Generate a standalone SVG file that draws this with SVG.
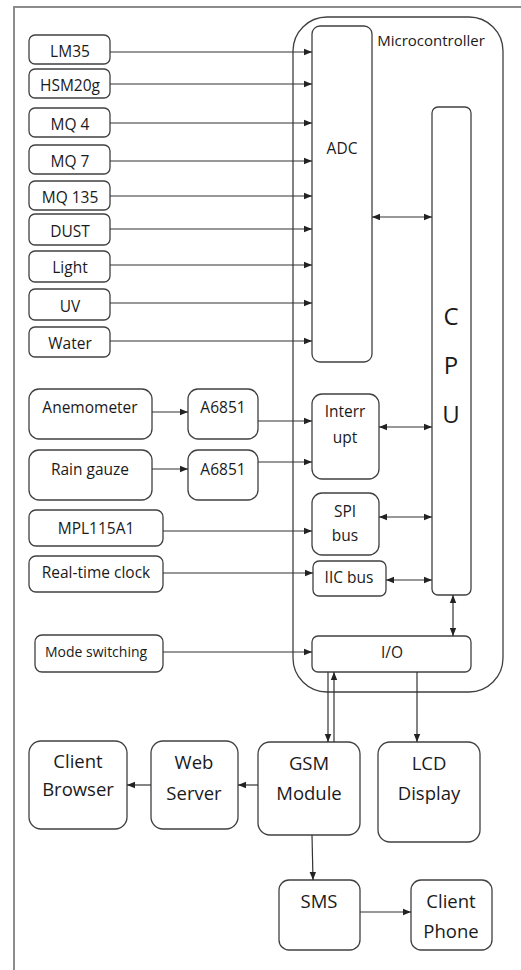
<svg xmlns="http://www.w3.org/2000/svg" width="521" height="970" viewBox="0 0 521 970">
<style>
.b{fill:#fff;stroke:#404040;stroke-width:1.3}
.t{font-family:"Open Sans","Liberation Sans",sans-serif;font-size:15.5px;fill:#1a1a1a;text-anchor:middle}
.m{font-size:14px}
.l{font-size:18.5px}
.c{font-size:24px}
.w{fill:none;stroke:#333;stroke-width:1.2}
.a{marker-end:url(#ah)}
.d{marker-start:url(#ah);marker-end:url(#ah)}
</style>
<defs>
<marker id="ah" markerUnits="userSpaceOnUse" markerWidth="8" markerHeight="8" refX="6" refY="3" orient="auto-start-reverse" viewBox="0 0 6 6"><path d="M0,0.6 L6,3 L0,5.4 Z" fill="#222"/></marker>
</defs>
<rect width="521" height="970" fill="#fff"/>
<path d="M14,970 V7 H521" fill="none" stroke="#8c8c8c" stroke-width="2"/>

<g id="microcontroller"><rect class="b" x="293" y="17" width="210" height="675" rx="34"/><text class="t" x="431" y="46" style="font-size:15px">Microcontroller</text></g>
<g id="adc"><rect class="b" x="312" y="26" width="60" height="336" rx="8"/><text class="t" x="342" y="154">ADC</text></g>
<g id="cpu"><rect class="b" x="432" y="107" width="39" height="488" rx="6"/><text class="t c" x="451" y="325">C</text><text class="t c" x="451" y="374">P</text><text class="t c" x="451" y="423">U</text></g>
<g id="interrupt"><rect class="b" x="312" y="394" width="67" height="85" rx="10"/><text class="t" x="345" y="417">Interr</text><text class="t" x="345" y="443">upt</text></g>
<g id="spi"><rect class="b" x="312" y="493" width="67" height="62" rx="10"/><text class="t" x="345" y="517">SPI</text><text class="t" x="345" y="541">bus</text></g>
<g id="iic"><rect class="b" x="313" y="561" width="73" height="35" rx="6"/><text class="t" x="349" y="583">IIC bus</text></g>
<g id="io"><rect class="b" x="312" y="636" width="159" height="36" rx="6"/><text class="t" x="392" y="658">I/O</text></g>

<g id="lm35"><rect class="b" x="29" y="35" width="81" height="29" rx="6"/><text class="t" x="70" y="57">LM35</text></g>
<g id="hsm20g"><rect class="b" x="29" y="69" width="81" height="29" rx="6"/><text class="t" x="70" y="91">HSM20g</text></g>
<g id="mq4"><rect class="b" x="29" y="108" width="81" height="29" rx="6"/><text class="t" x="70" y="130">MQ 4</text></g>
<g id="mq7"><rect class="b" x="29" y="145" width="81" height="29" rx="6"/><text class="t" x="70" y="167">MQ 7</text></g>
<g id="mq135"><rect class="b" x="29" y="181" width="81" height="29" rx="6"/><text class="t" x="70" y="203">MQ 135</text></g>
<g id="dust"><rect class="b" x="29" y="214" width="81" height="31" rx="6"/><text class="t" x="70" y="237">DUST</text></g>
<g id="light"><rect class="b" x="29" y="251" width="81" height="31" rx="6"/><text class="t" x="70" y="273">Light</text></g>
<g id="uv"><rect class="b" x="29" y="289" width="81" height="31" rx="6"/><text class="t" x="70" y="312">UV</text></g>
<g id="water"><rect class="b" x="29" y="327" width="81" height="30" rx="6"/><text class="t" x="70" y="349">Water</text></g>

<g id="anemometer"><rect class="b" x="29" y="389" width="123" height="50" rx="10"/><text class="t" x="90" y="413">Anemometer</text></g>
<g id="a6851a"><rect class="b" x="188" y="389" width="70" height="50" rx="10"/><text class="t" x="223" y="413">A6851</text></g>
<g id="raingauze"><rect class="b" x="29" y="450" width="123" height="50" rx="10"/><text class="t" x="90" y="475">Rain gauze</text></g>
<g id="a6851b"><rect class="b" x="188" y="450" width="70" height="50" rx="10"/><text class="t" x="223" y="475">A6851</text></g>
<g id="mpl115a1"><rect class="b" x="29" y="510" width="134" height="36" rx="7"/><text class="t" x="96" y="534">MPL115A1</text></g>
<g id="rtc"><rect class="b" x="29" y="556" width="134" height="36" rx="7"/><text class="t" x="96" y="578">Real-time clock</text></g>
<g id="modeswitching"><rect class="b" x="35" y="635" width="128" height="37" rx="7"/><text class="t m" x="45" y="657" style="text-anchor:start">Mode switching</text></g>

<g id="clientbrowser"><rect class="b" x="29" y="741" width="98" height="88" rx="12"/><text class="t l" x="78" y="768">Client</text><text class="t l" x="78" y="796">Browser</text></g>
<g id="webserver"><rect class="b" x="151" y="741" width="87" height="88" rx="12"/><text class="t l" x="194" y="769">Web</text><text class="t l" x="194" y="800">Server</text></g>
<g id="gsm"><rect class="b" x="258" y="742" width="102" height="93" rx="12"/><text class="t l" x="309" y="770">GSM</text><text class="t l" x="309" y="800">Module</text></g>
<g id="lcd"><rect class="b" x="378" y="742" width="102" height="100" rx="12"/><text class="t l" x="429" y="770">LCD</text><text class="t l" x="429" y="800">Display</text></g>
<g id="sms"><rect class="b" x="279" y="880" width="81" height="70" rx="10"/><text class="t l" x="319" y="908">SMS</text></g>
<g id="clientphone"><rect class="b" x="411" y="880" width="81" height="70" rx="10"/><text class="t l" x="451" y="908">Client</text><text class="t l" x="451" y="938">Phone</text></g>

<g id="connectors">
<path class="w a" d="M110,52 H312"/>
<path class="w a" d="M110,84 H312"/>
<path class="w a" d="M110,123 H312"/>
<path class="w a" d="M110,161 H312"/>
<path class="w a" d="M110,196 H312"/>
<path class="w a" d="M110,229 H312"/>
<path class="w a" d="M110,265 H312"/>
<path class="w a" d="M110,303 H312"/>
<path class="w a" d="M110,341 H312"/>
<path class="w a" d="M152,412 H188"/>
<path class="w a" d="M152,469 H188"/>
<path class="w a" d="M258,421 H312"/>
<path class="w a" d="M258,462 H312"/>
<path class="w a" d="M163,531 H312"/>
<path class="w a" d="M163,573 H313"/>
<path class="w a" d="M163,652 H312"/>
<path class="w d" d="M372,217 H432"/>
<path class="w d" d="M379,427 H432"/>
<path class="w d" d="M379,517 H432"/>
<path class="w d" d="M386,580 H432"/>
<path class="w d" d="M453,595 V636"/>
<path class="w a" d="M328,672 V742"/>
<path class="w a" d="M334,742 V672"/>
<path class="w a" d="M417,672 V742"/>
<path class="w a" d="M258,785 H238"/>
<path class="w a" d="M151,785 H127"/>
<path class="w a" d="M312,835 L313,880"/>
<path class="w a" d="M360,912 H411"/>
</g>
</svg>
